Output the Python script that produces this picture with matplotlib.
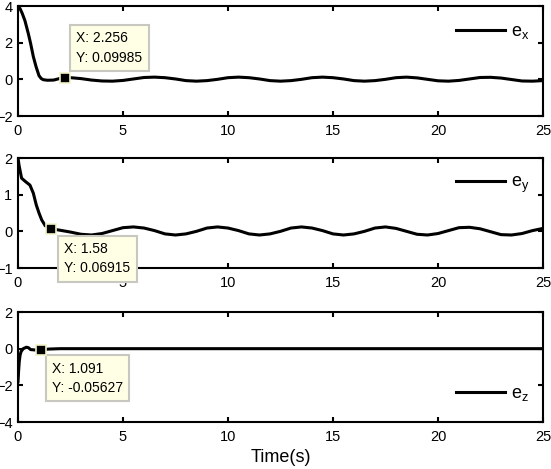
import matplotlib
matplotlib.use("Agg")
import matplotlib.pyplot as plt

plt.rcParams['font.family'] = ['Liberation Sans', 'DejaVu Sans']
plt.rcParams['mathtext.fontset'] = 'custom'
plt.rcParams['mathtext.rm'] = 'Liberation Sans'

# ---------------- data ----------------
t_x = [0, 0.1, 0.2, 0.33, 0.49, 0.6, 0.73, 0.86, 1.0, 1.1, 1.2, 1.4, 1.7, 2.0, 2.256,
       2.5, 3.0, 3.5, 4.0, 4.5, 5.0, 5.5, 6.0, 6.5, 7.0, 7.5, 8.0, 8.5, 9.0, 9.5,
       10.0, 10.5, 11.0, 11.5, 12.0, 12.5, 13.0, 13.5, 14.0, 14.5, 15.0, 15.5, 16.0,
       16.5, 17.0, 17.5, 18.0, 18.5, 19.0, 19.5, 20.0, 20.5, 21.0, 21.5, 22.0, 22.5,
       23.0, 23.5, 24.0, 24.5, 25.0]
e_x = [4.0, 3.85, 3.6, 3.2, 2.5, 1.96, 1.24, 0.69, 0.2, 0.05, -0.02, -0.05, -0.04, 0.05, 0.09985,
       0.09, 0.04, -0.04, -0.09, -0.1, -0.06, 0.02, 0.1, 0.12, 0.09, 0.02, -0.07, -0.1, -0.07, 0.0,
       0.09, 0.12, 0.09, 0.02, -0.07, -0.1, -0.07, 0.0, 0.09, 0.12, 0.09, 0.02, -0.07,
       -0.1, -0.07, 0.0, 0.09, 0.12, 0.08, 0.0, -0.08, -0.1, -0.06, 0.02, 0.1, 0.11,
       0.07, -0.01, -0.09, -0.1, -0.07]

t_y = [0, 0.05, 0.17, 0.35, 0.57, 0.73, 0.87, 1.0, 1.13, 1.3, 1.58, 2.0, 2.5,
       3.0, 3.5, 4.0, 4.5, 5.0, 5.5, 6.0, 6.5, 7.0, 7.5, 8.0, 8.5, 9.0, 9.5,
       10.0, 10.5, 11.0, 11.5, 12.0, 12.5, 13.0, 13.5, 14.0, 14.5, 15.0, 15.5, 16.0,
       16.5, 17.0, 17.5, 18.0, 18.5, 19.0, 19.5, 20.0, 20.5, 21.0, 21.5, 22.0, 22.5,
       23.0, 23.5, 24.0, 24.5, 25.0]
e_y = [2.0, 1.8, 1.45, 1.36, 1.26, 1.04, 0.72, 0.5, 0.31, 0.15, 0.06915, 0.03, -0.02,
       -0.08, -0.1, -0.06, 0.02, 0.1, 0.12, 0.09, 0.02, -0.07, -0.1, -0.07, 0.0, 0.09, 0.12,
       0.09, 0.02, -0.07, -0.1, -0.07, 0.0, 0.09, 0.12, 0.09, 0.02, -0.07, -0.1, -0.07,
       0.0, 0.09, 0.12, 0.08, 0.0, -0.08, -0.1, -0.06, 0.02, 0.1, 0.11, 0.07, -0.01,
       -0.09, -0.1, -0.06, 0.02, 0.08]

t_z = [0, 0.03, 0.06, 0.1, 0.15, 0.25, 0.4, 0.5, 0.6, 0.8, 1.091, 1.5, 2.0, 25.0]
e_z = [-1.8, -1.2, -0.7, -0.35, -0.15, 0.0, 0.08, 0.05, -0.05, -0.07, -0.05627, -0.02, 0.0, 0.0]

series_t = [t_x, t_y, t_z]
series_v = [e_x, e_y, e_z]
labels = [r'$\mathregular{e_x}$', r'$\mathregular{e_y}$', r'$\mathregular{e_z}$']
ylims = [(-2, 4), (-1, 2), (-4, 2)]
yticks = [[-2, 0, 2, 4], [-1, 0, 1, 2], [-4, -2, 0, 2]]
xticks = [0, 5, 10, 15, 20, 25]

tip_x = [2.256, 1.58, 1.091]
tip_y = [0.09985, 0.06915, -0.05627]
tip_text = ['X: 2.256\nY: 0.09985', 'X: 1.58\nY: 0.06915', 'X: 1.091\nY: -0.05627']

# ---------------- layout ----------------
W, H = 551, 469
fig = plt.figure(figsize=(W / 100, H / 100), dpi=100)
left, right = 18 / W, 543 / W
panels = [(6, 116), (158, 268), (312, 422)]
tip_offsets = [(11, 13, 'bottom'), (13, -13, 'top'), (11, -12, 'top')]
leg_y = [0.764, 0.755, 0.255]

for i, (top, bot) in enumerate(panels):
    ax = fig.add_axes([left, 1 - bot / H, right - left, (bot - top) / H])
    ax.plot(series_t[i], series_v[i], color='black', lw=2.2, label=labels[i],
            solid_joinstyle='round')
    ax.set_xlim(0, 25)
    ax.set_ylim(*ylims[i])
    ax.set_xticks(xticks)
    ax.set_yticks(yticks[i])
    for s in ax.spines.values():
        s.set_linewidth(1.5)
    ax.tick_params(direction='in', length=3.5, width=1.5, top=True, right=True,
                   labelsize=10.5, pad=4)
    ax.tick_params(axis='x', pad=5.5)
    leg = ax.legend(loc='center left', bbox_to_anchor=(0.835, leg_y[i]),
                    frameon=False, fontsize=13, handlelength=2.7,
                    handletextpad=0.35, borderpad=0, borderaxespad=0)
    for ln in leg.get_lines():
        ln.set_linewidth(2.2)
    # data tip
    ax.plot([tip_x[i]], [tip_y[i]], marker='s', markersize=7.5, color='black',
            markeredgecolor='#f2f2c8', markeredgewidth=1.2, zorder=11, clip_on=False)
    dx, dy, va = tip_offsets[i]
    ax.annotate(tip_text[i], xy=(tip_x[i], tip_y[i]), xytext=(dx, dy),
                textcoords='offset pixels', ha='left', va=va, fontsize=10,
                linespacing=1.5, zorder=10, annotation_clip=False,
                bbox=dict(boxstyle='square,pad=0.45', fc='#ffffe6', ec='#c8c8c0', lw=1.5))
    if i == 2:
        ax.set_xlabel('Time(s)', fontsize=13, labelpad=4)

fig.savefig('out.png', dpi=100)
